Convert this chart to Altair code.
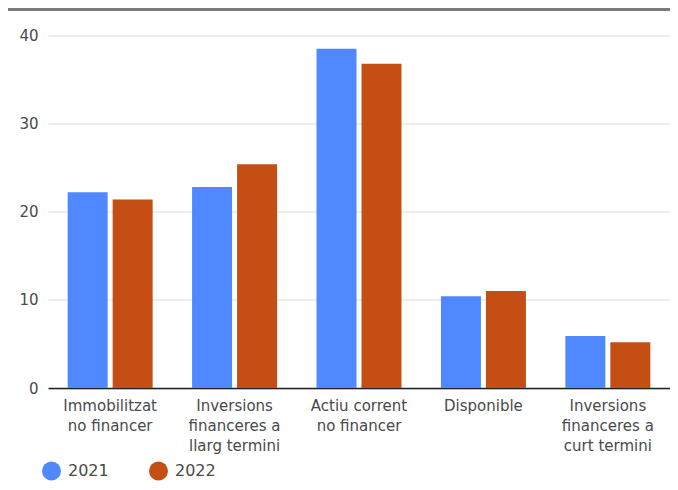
import altair as alt
import pandas as pd

categories = ["Immobilitzat\nno financer", "Inversions\nfinanceres a\nllarg termini",
              "Actiu corrent\nno financer", "Disponible",
              "Inversions\nfinanceres a\ncurt termini"]
years = ["2021", "2022"]
values_2021 = [22.2, 22.8, 38.5, 10.4, 5.9]
values_2022 = [21.4, 25.4, 36.8, 11.0, 5.2]
y_ticks = [0, 10, 20, 30, 40]
colors = ["#5088ff", "#c44e14"]

rows = []
for c, a, b in zip(categories, values_2021, values_2022):
    rows.append({"cat": c, "year": years[0], "value": a})
    rows.append({"cat": c, "year": years[1], "value": b})
df = pd.DataFrame(rows)

FONT = "DejaVu Sans"
TXT = "#4a4a4a"

bars = alt.Chart(df).mark_bar().encode(
    x=alt.X("cat:N", sort=categories, title=None,
            scale=alt.Scale(paddingInner=0.317, paddingOuter=0.158),
            axis=alt.Axis(labelAngle=0, labelExpr="split(datum.label, '\\n')",
                          labelFontSize=15, labelColor=TXT, labelFont=FONT,
                          labelLineHeight=20, labelPadding=10, ticks=False,
                          domainColor="#222", domainWidth=1.5, grid=False,
                          labelBaseline="top")),
    xOffset=alt.XOffset("year:N", scale=alt.Scale(paddingInner=0.111)),
    y=alt.Y("value:Q", title=None,
            scale=alt.Scale(domain=[0, 40], nice=False),
            axis=alt.Axis(values=y_ticks, domain=False, ticks=False,
                          labelFontSize=15, labelColor=TXT, labelFont=FONT,
                          labelPadding=10, gridColor="#dddddd", gridWidth=1)),
    color=alt.Color("year:N", scale=alt.Scale(domain=years, range=colors),
                    legend=alt.Legend(title=None, orient="none", direction="horizontal",
                                      legendX=-6, legendY=426, symbolType="circle",
                                      symbolSize=360, symbolStrokeWidth=0,
                                      labelFontSize=16, labelFont=FONT, labelColor=TXT,
                                      columnPadding=40, labelOffset=7)),
)

top_rule = alt.Chart(df).mark_rule(color="#7a7a7a", strokeWidth=2).encode(
    x=alt.value(-40), x2=alt.value(622), y=alt.value(-26)
)

chart = alt.layer(top_rule, bars).properties(
    width=622, height=352.5,
    autosize=alt.AutoSizeParams(type="none"),
    padding={"left": 40, "top": 27.5, "right": 0, "bottom": 94},
).configure_view(stroke=None)

chart.save("out.html", embed_options={"renderer": "svg", "actions": False})
